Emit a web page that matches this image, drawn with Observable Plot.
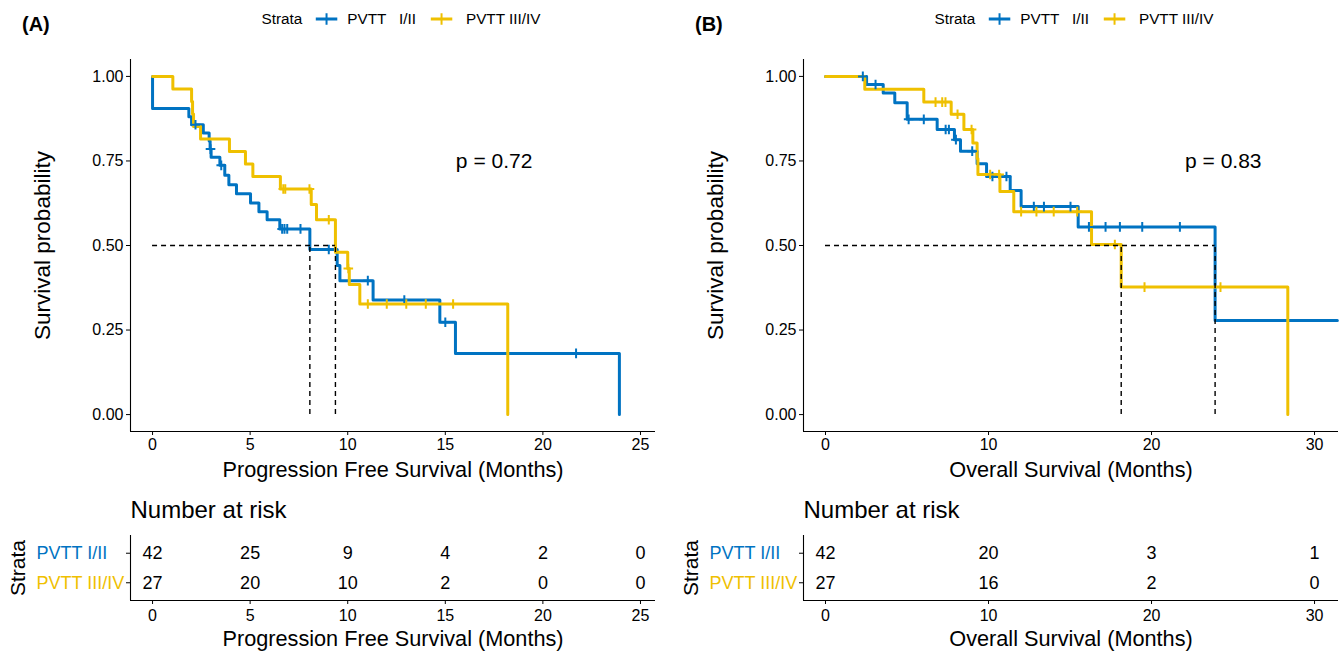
<!DOCTYPE html>
<html><head><meta charset="utf-8">
<script src="https://cdn.jsdelivr.net/npm/d3@7"></script>
<script src="https://cdn.jsdelivr.net/npm/@observablehq/plot@0.6"></script>
<style>
body{margin:0;background:#fff;font-family:"Liberation Sans",Arial,sans-serif;color:#000;}
#root{position:relative;width:1344px;height:652px;overflow:hidden;background:#fff;}
.abs{position:absolute;}
.tag{font-weight:bold;font-size:20px;}
.legend{display:flex;align-items:center;font-size:15.3px;white-space:pre;transform:translateX(-50%);}
.legend svg{display:block;}
</style></head><body><div id="root"></div><script>
// ---------- data ----------
const strataNames = ["PVTT I/II", "PVTT III/IV"];
const legendNames = ["PVTT   I/II", "PVTT III/IV"];
const strataColors = ["#0073C2", "#EFC000"];

// Panel A: Progression Free Survival
const pfsI_time = [0, 0, 1.86, 2.0, 2.6, 2.9, 2.95, 3.0, 3.45, 3.7, 3.91, 4.3, 5.02, 5.45, 5.87, 6.52, 8.06, 9.46, 9.6, 11.3, 14.72, 15.52, 23.92];
const pfsI_surv = [1, 0.905, 0.881, 0.857, 0.833, 0.809, 0.785, 0.761, 0.737, 0.708, 0.680, 0.653, 0.626, 0.600, 0.576, 0.549, 0.488, 0.441, 0.396, 0.339, 0.273, 0.181, 0];
const pfsI_cens = [2.2, 2.97, 3.52, 6.64, 6.76, 6.9, 7.58, 9.03, 11.03, 12.9, 15.0, 21.7];
const pfsIII_time = [0, 1.04, 2.0, 2.05, 2.1, 2.46, 3.94, 4.76, 5.14, 6.55, 8.13, 8.4, 9.37, 10.0, 10.08, 10.62, 18.2];
const pfsIII_surv = [1, 0.963, 0.926, 0.889, 0.852, 0.815, 0.778, 0.741, 0.704, 0.667, 0.621, 0.576, 0.480, 0.432, 0.385, 0.327, 0];
const pfsIII_cens = [6.7, 6.8, 8.04, 9.03, 10.03, 11.03, 12.0, 13.0, 14.0, 15.4];
const pfsMedians = [8.06, 9.37];
const pfsP = ["p = 0.72"];
const pfsPpos = [17.5, 0.75];
const pfsRiskTimes = [0, 5, 10, 15, 20, 25];
const pfsRiskI = [42, 25, 9, 4, 2, 0];
const pfsRiskIII = [27, 20, 10, 2, 0, 0];

// Panel B: Overall Survival
const osI_time = [0, 2.52, 3.54, 4.25, 5.01, 6.85, 7.91, 8.28, 9.3, 9.88, 11.33, 12.0, 15.5, 23.9, 31.4];
const osI_surv = [1, 0.976, 0.951, 0.922, 0.873, 0.843, 0.813, 0.779, 0.742, 0.704, 0.663, 0.615, 0.555, 0.278, 0.278];
const osI_cens = [2.29, 3.07, 5.1, 6.03, 7.37, 7.57, 8.0, 9.0, 10.24, 11.1, 12.78, 13.4, 15.03, 16.16, 17.18, 18.06, 19.43, 21.74];
const osIII_time = [0, 2.41, 6.03, 7.71, 8.49, 9.04, 9.3, 9.35, 10.7, 11.55, 16.32, 18.14, 28.36];
const osIII_surv = [1, 0.962, 0.924, 0.888, 0.843, 0.803, 0.757, 0.710, 0.660, 0.600, 0.503, 0.377, 0];
const osIII_cens = [6.75, 7.16, 7.36, 8.1, 8.96, 10.1, 10.65, 12.0, 12.94, 14.0, 15.44, 17.75, 19.57, 24.23];
const osMedians = [18.14, 23.9];
const osP = ["p = 0.83"];
const osPpos = [24.4, 0.75];
const osRiskTimes = [0, 10, 20, 30];
const osRiskI = [42, 20, 3, 1];
const osRiskIII = [27, 16, 2, 0];

const yTicks = [0, 0.25, 0.5, 0.75, 1];

// ---------- helpers ----------
const FONT = "'Liberation Sans', Arial, sans-serif";
const TITLE_SIZE = 21.7;
function survAt(time, surv, t) {
  let v = surv[0];
  for (let i = 0; i < time.length; i++) if (time[i] <= t) v = surv[i];
  return v;
}
function kmPanel(p) {
  const marks = [
    Plot.ruleX([p.xDomain[0]], {stroke: "black", strokeWidth: 1.1}),
    Plot.ruleY([-0.05], {stroke: "black", strokeWidth: 1.1}),
    Plot.axisX({ticks: p.xTicks, tickSize: 4, tickPadding: 3, fontSize: 16, label: null, tickFormat: d => String(d)}),
    Plot.axisY({ticks: yTicks, tickSize: 4, tickPadding: 3, fontSize: 16, label: null, tickFormat: d3.format(".2f")})
  ];
  p.series.forEach((s, i) => {
    const pts = s.time.map((t, j) => ({t, s: s.surv[j]}));
    marks.push(Plot.line(pts, {x: "t", y: "s", curve: "step-after", stroke: strataColors[i], strokeWidth: 3}));
  });
  p.series.forEach((s, i) => {
    const c = s.cens.map(t => ({t, s: survAt(s.time, s.surv, t)}));
    marks.push(Plot.dot(c, {x: "t", y: "s", symbol: "plus", r: 3.2, stroke: strataColors[i], strokeWidth: 2}));
  });
  const mMax = d3.max(p.medians);
  marks.push(Plot.ruleY([0.5], {x1: 0, x2: mMax, stroke: "black", strokeWidth: 1.4, strokeDasharray: "5,4"}));
  marks.push(Plot.ruleX(p.medians, {y1: 0, y2: 0.5, stroke: "black", strokeWidth: 1.4, strokeDasharray: "5,4"}));
  marks.push(Plot.text(p.pLabel, {x: () => p.pPos[0], y: () => p.pPos[1], fontSize: 21, fill: "black"}));
  marks.push(Plot.text(["Survival probability"], {frameAnchor: "left", dx: -88, rotate: -90, fontSize: 22.5, fill: "black", textAnchor: "middle", lineAnchor: "middle"}));
  marks.push(Plot.text([p.xTitle], {frameAnchor: "bottom", dy: 39, fontSize: TITLE_SIZE, fill: "black", lineAnchor: "middle"}));
  return Plot.plot({
    width: 672, height: 490,
    marginLeft: p.ml, marginRight: p.mr, marginTop: 59, marginBottom: 59,
    x: {domain: p.xDomain},
    y: {domain: [-0.05, 1.05]},
    style: {fontFamily: FONT, color: "black", background: "transparent", overflow: "visible"},
    marks
  });
}
function riskPanel(p) {
  const rows = [];
  p.riskTimes.forEach((t, j) => {
    rows.push({t, row: 2, n: p.riskI[j]});
    rows.push({t, row: 1, n: p.riskIII[j]});
  });
  const labels = [
    {row: 2, name: strataNames[0], color: strataColors[0]},
    {row: 1, name: strataNames[1], color: strataColors[1]}
  ];
  return Plot.plot({
    width: 672, height: 162,
    marginLeft: p.ml, marginRight: p.mr, marginTop: 45, marginBottom: 52,
    x: {domain: p.xDomain},
    y: {domain: [0.4, 2.6]},
    color: {type: "identity"},
    style: {fontFamily: FONT, color: "black", background: "transparent", overflow: "visible"},
    marks: [
      Plot.ruleX([p.xDomain[0]], {stroke: "black", strokeWidth: 1.1}),
      Plot.ruleY([0.4], {stroke: "black", strokeWidth: 1.1}),
      Plot.axisX({ticks: p.riskTimes, tickSize: 4, tickPadding: 5, fontSize: 16, label: null, tickFormat: d => String(d)}),
      Plot.axisY({ticks: [1, 2], tickSize: 4, label: null, tickFormat: () => ""}),
      Plot.text(rows, {x: "t", y: "row", text: d => String(d.n), fontSize: 18, fill: "black"}),
      Plot.text(labels, {y: "row", text: "name", fill: "color", frameAnchor: "left", dx: -94, textAnchor: "start", fontSize: 18, lineAnchor: "middle"}),
      Plot.text(["Number at risk"], {frameAnchor: "top-left", dy: -25, textAnchor: "start", fontSize: 24, fill: "black", lineAnchor: "middle"}),
      Plot.text(["Strata"], {frameAnchor: "left", dx: -112, rotate: -90, fontSize: 21, fill: "black", textAnchor: "middle", lineAnchor: "middle"}),
      Plot.text([p.xTitle], {frameAnchor: "bottom", dy: 39, fontSize: TITLE_SIZE, fill: "black", lineAnchor: "middle"})
    ]
  });
}
function place(el, left, top) {
  el.classList.add("abs");
  el.style.left = left + "px";
  el.style.top = top + "px";
  root.appendChild(el);
}
function legend(centerX) {
  const d = document.createElement("div");
  d.className = "legend abs";
  d.style.left = centerX + "px";
  d.style.top = "10px";
  const s = document.createElement("span");
  s.textContent = "Strata";
  s.style.marginRight = "13px";
  d.appendChild(s);
  strataColors.forEach((c, i) => {
    const sw = d3.create("svg").attr("width", 22).attr("height", 14);
    sw.append("line").attr("x1", 0).attr("x2", 22).attr("y1", 7).attr("y2", 7).attr("stroke", c).attr("stroke-width", 3);
    sw.append("path").attr("d", d3.symbol(d3.symbolPlus, 45)()).attr("transform", "translate(11,7)").attr("stroke", c).attr("stroke-width", 2).attr("fill", "none");
    sw.node().style.marginRight = i === 0 ? "10px" : "13px";
    d.appendChild(sw.node());
    const t = document.createElement("span");
    t.textContent = legendNames[i];
    t.style.marginRight = i === 0 ? "15px" : "0";
    d.appendChild(t);
  });
  root.appendChild(d);
}

const root = document.getElementById("root");
const A = {
  xDomain: [-1.13, 25.77], xTicks: [0, 5, 10, 15, 20, 25], ml: 130, mr: 17,
  series: [
    {time: pfsI_time, surv: pfsI_surv, cens: pfsI_cens},
    {time: pfsIII_time, surv: pfsIII_surv, cens: pfsIII_cens}
  ],
  medians: pfsMedians, pLabel: pfsP, pPos: pfsPpos,
  xTitle: "Progression Free Survival (Months)",
  riskTimes: pfsRiskTimes, riskI: pfsRiskI, riskIII: pfsRiskIII
};
const B = {
  xDomain: [-1.35, 31.47], xTicks: [0, 10, 20, 30], ml: 131, mr: 6,
  series: [
    {time: osI_time, surv: osI_surv, cens: osI_cens},
    {time: osIII_time, surv: osIII_surv, cens: osIII_cens}
  ],
  medians: osMedians, pLabel: osP, pPos: osPpos,
  xTitle: "Overall Survival (Months)",
  riskTimes: osRiskTimes, riskI: osRiskI, riskIII: osRiskIII
};
place(kmPanel(A), 0, 0);
place(riskPanel(A), 0, 490);
place(kmPanel(B), 672, 0);
place(riskPanel(B), 672, 490);

const ta = document.createElement("div"); ta.className = "tag"; ta.textContent = "(A)"; place(ta, 22, 13);
const tb = document.createElement("div"); tb.className = "tag"; tb.textContent = "(B)"; place(tb, 695, 13);
legend(401);
legend(1074);
</script></body></html>
